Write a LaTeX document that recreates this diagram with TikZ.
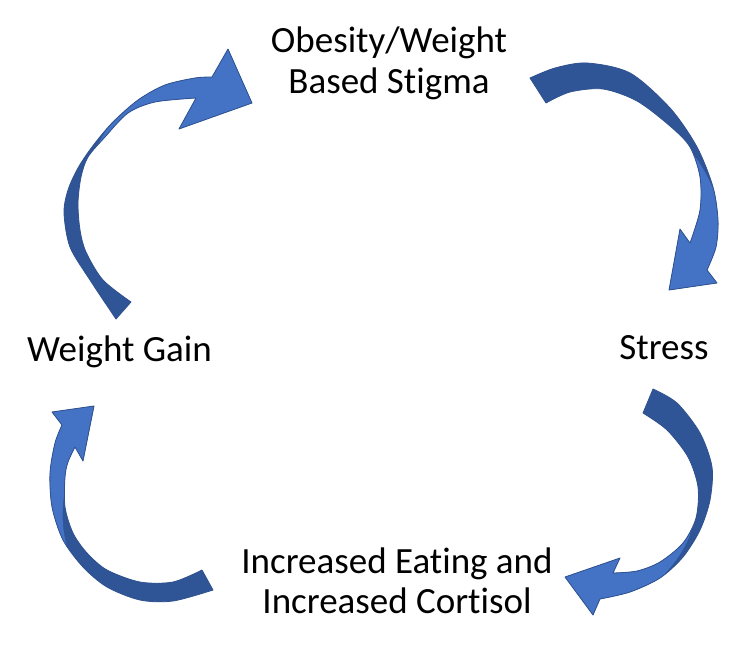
\documentclass[tikz,border=0pt]{standalone}
\usepackage{fontspec}
\setmainfont{Carlito}[Ligatures=NoCommon]
\definecolor{arlight}{HTML}{4472C4}
\definecolor{ardark}{HTML}{2F5597}
\definecolor{arline}{HTML}{2F528F}
\begin{document}
\begin{tikzpicture}[x=1pt,y=-1pt,
  lbl/.style={font=\fontsize{37}{41}\selectfont, anchor=base, inner sep=0pt, text=black},
  arrowline/.style={draw=arline, line width=0.8pt, line join=round}]
\useasboundingbox (0,0) rectangle (754,651);
\fill[white] (0,0) rectangle (754,651);

% ---- arrow paths ----
\def\pathA{plot[smooth] coordinates {(116,319) (90,280) (70,247) (64,213) (68,190) (78,168) (92,147) (112,123) (138,100) (165,85) (195,78) (212,77)}
  -- (228,49) -- (252,103) -- (179,129) --
  plot[smooth] coordinates {(196,98) (155,102) (128,113) (105,137) (88,157) (81,177) (78,203) (80,230) (86,252) (103,280) (131,302)} -- cycle}
\def\pathB{plot[smooth] coordinates {(530,78) (555,68) (587,63) (630,73) (670,108) (697,147) (713,187) (718,220) (716,247) (707,270)}
  -- (717,283) -- (669,290) -- (680,229) --
  plot[smooth] coordinates {(690,243) (700,210) (700,177) (690,147) (670,126) (637,101) (603,89) (570,92) (546,103)} -- cycle}
\def\pathC{plot[smooth] coordinates {(653,389) (677,403) (700,433) (712,467) (710,500) (700,530) (683,557) (660,578) (630,592) (600,599)}
  -- (593,615) -- (565,577) -- (620,558) --
  plot[smooth] coordinates {(613,573) (637,571) (660,562) (683,543) (696,518) (698,487) (688,457) (667,430) (643,413)} -- cycle}
\def\pathD{plot[smooth] coordinates {(213,590) (173,601) (140,600) (107,587) (83,567) (63,540) (52,507) (50,473) (55,443) (62,425)}
  -- (52,412) -- (94,406) -- (83,461) --
  plot[smooth] coordinates {(75,447) (68,462) (65,477) (65,507) (73,533) (87,553) (107,570) (140,582) (173,582) (202,570)} -- cycle}

% arrow A (Weight Gain -> Stigma)
\begin{scope}
  \clip \pathA;
  \fill[ardark] (0,0) rectangle (754,651);
  \fill[arlight] (140,94) .. controls (112,118) and (84,150) .. (84,205) -- (110,205) -- (300,200) -- (300,20) -- (150,20) -- cycle;
\end{scope}
\draw[arrowline] \pathA;

% arrow B (Stigma -> Stress)
\begin{scope}
  \clip \pathB;
  \fill[ardark] (0,0) rectangle (754,651);
  \fill[arlight] (660,128) .. controls (690,140) and (712,175) .. (724,222) -- (754,240) -- (754,320) -- (600,320) -- (600,150) -- cycle;
\end{scope}
\draw[arrowline] \pathB;

% arrow C (Stress -> Eating)
\begin{scope}
  \clip \pathC;
  \fill[ardark] (0,0) rectangle (754,651);
  \fill[arlight] (690,505) .. controls (702,530) and (675,570) .. (640,596) -- (640,651) -- (540,651) -- (540,500) -- cycle;
\end{scope}
\draw[arrowline] \pathC;

% arrow D (Eating -> Weight Gain)
\begin{scope}
  \clip \pathD;
  \fill[ardark] (0,0) rectangle (754,651);
  \fill[arlight] (76,570) .. controls (60,540) and (58,500) .. (72,468) -- (100,475) -- (120,380) -- (0,380) -- (0,600) -- cycle;
\end{scope}
\draw[arrowline] \pathD;

% ---- labels ----
\node[lbl] (stigmaA) at (389,52) {Obesity/Weight};
\node[lbl] (stigmaB) at (389,93) {Based Stigma};
\node[lbl] (gain) at (119.5,361) {Weight Gain};
\node[lbl] (stress) at (664,359) {Stress};
\node[lbl] (eatA) at (397,573) {Increased Eating and};
\node[lbl] (eatB) at (397,613) {Increased Cortisol};
\end{tikzpicture}
\end{document}
